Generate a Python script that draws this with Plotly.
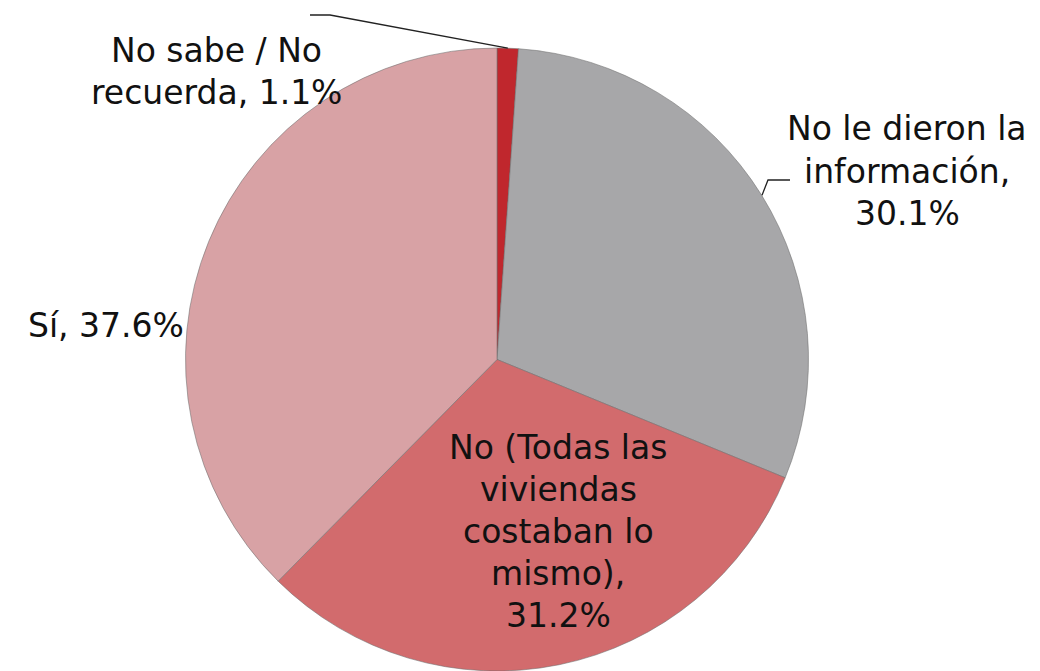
import math

import plotly.graph_objects as go

W, H = 1040, 671

# slices, clockwise from 12 o'clock
categories = [
    "No sabe / No recuerda",
    "No le dieron la información",
    "No (Todas las viviendas costaban lo mismo)",
    "Sí",
]
shares = [1.1, 30.1, 31.2, 37.6]
# how each category name wraps in the data label (percent is appended)
label_wraps = [
    ["No sabe / No", "recuerda,"],
    ["No le dieron la", "información,"],
    ["No (Todas las", "viviendas", "costaban lo", "mismo),"],
    ["Sí,"],
]

SLICE_COLORS = ["#c0272d", "#a7a7a9", "#d26b6d", "#d8a2a5"]
FONT = "DejaVu Sans, Verdana, sans-serif"
FONT_SIZE = 33
LINE_PITCH = 42

# pie geometry in pixels
CX, CY, R = 497, 360, 312

# label block: centre x, centre y of first line (pixels), percent on own line?
LABEL_POS = [
    (216, 50, False),
    (907, 129, True),
    (558, 447, True),
    (106, 325, False),
]


def px(x, y):
    return x / W, 1 - y / H


def rim_point(fraction):
    angle = 2 * math.pi * fraction
    return CX + R * math.sin(angle), CY - R * math.cos(angle)


fig = go.Figure(
    go.Pie(
        labels=categories,
        values=shares,
        sort=False,
        direction="clockwise",
        rotation=0,
        textinfo="none",
        hoverinfo="label+percent",
        marker={"colors": SLICE_COLORS,
                "line": {"color": "rgba(110,110,110,0.55)", "width": 1}},
        domain={"x": [(CX - R) / W, (CX + R) / W], "y": [0, 1 - (CY - R) / H]},
        showlegend=False,
    )
)

annotations = []
for wrap, value, (lx, ly, own_line) in zip(label_wraps, shares, LABEL_POS):
    lines = list(wrap)
    pct = f"{value:.1f}%"
    if own_line:
        lines.append(pct)
    else:
        lines[-1] = f"{lines[-1]} {pct}"
    for i, line in enumerate(lines):
        x, y = px(lx, ly + i * LINE_PITCH)
        annotations.append(
            dict(x=x, y=y, xref="paper", yref="paper", text=line,
                 showarrow=False, xanchor="center", yanchor="middle",
                 font={"family": FONT, "size": FONT_SIZE, "color": "#111111"})
        )

# leader lines to the two outer labels, touching the rim at the slice middle
total = sum(shares)
cum = 0.0
mids = []
for v in shares:
    mids.append((cum + v / 2) / total)
    cum += v

a0 = rim_point(mids[0])
a1 = rim_point(mids[1])
leaders = [
    [(310, 15), (330, 15), a0],
    [a1, (768, 180), (790, 180)],
]
shapes = []
for pts in leaders:
    coords = [px(*p) for p in pts]
    path = "M " + " L ".join(f"{x:.5f},{y:.5f}" for x, y in coords)
    shapes.append(dict(type="path", path=path, xref="paper", yref="paper",
                       line={"color": "#222222", "width": 1.3}))

fig.update_layout(
    width=W,
    height=H,
    margin={"l": 0, "r": 0, "t": 0, "b": 0},
    paper_bgcolor="#ffffff",
    plot_bgcolor="#ffffff",
    annotations=annotations,
    shapes=shapes,
)

fig.write_html(
    "out.html",
    config={"displayModeBar": False},
    post_script="document.body.style.margin = '0';",
)
